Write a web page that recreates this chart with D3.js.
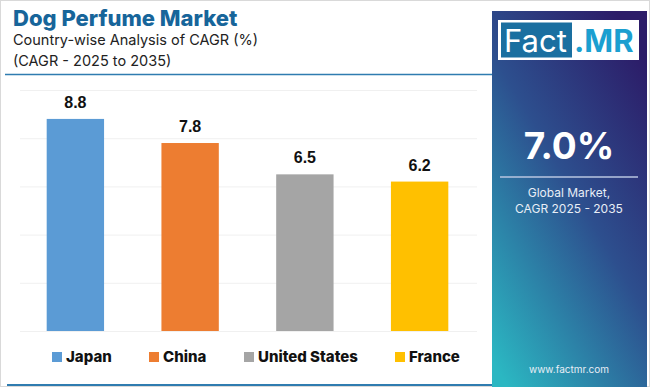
<!DOCTYPE html>
<html lang="en">
<head>
    <meta charset="UTF-8">
    <title>Dog Perfume Market</title>
    <script src="https://d3js.org/d3.v7.min.js"></script>
    <style>
        body {
            margin: 0;
            padding: 0;
            background: #ffffff;
        }
        svg {
            display: block;
            font-family: "Inter", "Open Sans", sans-serif;
        }
    </style>
</head>
<body>
    <svg id="chart" width="650" height="387"></svg>

    <script>
        // Data
        const countries = ["Japan", "China", "United States", "France"];
        const cagr = [8.8, 7.8, 6.5, 6.2];
        const barColors = ["#5b9bd5", "#ed7d31", "#a5a5a5", "#ffc000"];
        const yTicks = [0, 2, 4, 6, 8, 10];
        const globalCagr = "7.0%";

        const data = countries.map((c, i) => ({ country: c, value: cagr[i], color: barColors[i] }));

        const svg = d3.select("#chart");

        // outer frame
        svg.append("rect")
            .attr("x", 0.5).attr("y", 0.5)
            .attr("width", 649).attr("height", 386)
            .attr("fill", "#ffffff")
            .attr("stroke", "#d9d9d9");

        // Titles
        svg.append("text")
            .attr("x", 13).attr("y", 26)
            .style("font-size", "22px")
            .style("font-weight", "800")
            .attr("fill", "#17659a")
            .text("Dog Perfume Market");

        svg.append("text")
            .attr("x", 13).attr("y", 45)
            .style("font-size", "14.5px")
            .attr("fill", "#222")
            .text("Country-wise Analysis of CAGR (%)");

        svg.append("text")
            .attr("x", 13).attr("y", 66)
            .style("font-size", "14.5px")
            .attr("fill", "#222")
            .text("(CAGR - 2025 to 2035)");

        svg.append("line")
            .attr("x1", 5).attr("x2", 492)
            .attr("y1", 74.5).attr("y2", 74.5)
            .attr("stroke", "#2f7cb0").attr("stroke-width", 1.5);

        // bottom rule
        svg.append("line")
            .attr("x1", 7).attr("x2", 492)
            .attr("y1", 385).attr("y2", 385)
            .attr("stroke", "#2f7cb0").attr("stroke-width", 2);

        // Chart area
        const x = d3.scaleBand()
            .domain(countries)
            .range([18, 477])
            .paddingInner(0.5)
            .paddingOuter(0.25);

        const y = d3.scaleLinear()
            .domain([0, 10])
            .range([331, 90]);

        // faint gridlines
        svg.append("g")
            .selectAll("line")
            .data(yTicks)
            .enter().append("line")
            .attr("x1", 20).attr("x2", 477)
            .attr("y1", d => y(d) + 0.5).attr("y2", d => y(d) + 0.5)
            .attr("stroke", "#f0f0f0");

        // bars
        svg.append("g")
            .selectAll("rect")
            .data(data)
            .enter().append("rect")
            .attr("x", d => x(d.country))
            .attr("y", d => y(d.value))
            .attr("width", x.bandwidth())
            .attr("height", d => y(0) - y(d.value))
            .attr("fill", d => d.color);

        // value labels
        svg.append("g")
            .selectAll("text")
            .data(data)
            .enter().append("text")
            .attr("x", d => x(d.country) + x.bandwidth() / 2)
            .attr("y", d => y(d.value) - 11)
            .attr("text-anchor", "middle")
            .style("font-family", "'Liberation Sans', Arial, sans-serif")
            .style("font-size", "16px")
            .style("font-weight", "bold")
            .attr("fill", "#111")
            .text(d => d.value.toFixed(1));

        // legend
        const legendX = [52, 149, 244, 395];
        const legend = svg.append("g")
            .selectAll("g")
            .data(data)
            .enter().append("g")
            .attr("transform", (d, i) => `translate(${legendX[i]},352)`);

        legend.append("rect")
            .attr("width", 10).attr("height", 10)
            .attr("fill", d => d.color);

        legend.append("text")
            .attr("x", 14).attr("y", 9.5)
            .style("font-size", "15px")
            .style("font-weight", "800")
            .attr("fill", "#111")
            .text(d => d.country);

        // Right side panel
        const defs = svg.append("defs");
        const grad = defs.append("linearGradient")
            .attr("id", "panelGrad")
            .attr("x1", "0.8").attr("y1", "0")
            .attr("x2", "0.1").attr("y2", "1");
        grad.append("stop").attr("offset", "0%").attr("stop-color", "#2c1c68");
        grad.append("stop").attr("offset", "45%").attr("stop-color", "#2d4f8e");
        grad.append("stop").attr("offset", "100%").attr("stop-color", "#2bb7c2");

        svg.append("rect")
            .attr("x", 492).attr("y", 11)
            .attr("width", 155).attr("height", 376)
            .attr("fill", "url(#panelGrad)");

        // logo
        svg.append("rect")
            .attr("x", 498).attr("y", 20)
            .attr("width", 141).attr("height", 40)
            .attr("fill", "#ffffff");
        svg.append("rect")
            .attr("x", 501).attr("y", 22.5)
            .attr("width", 71).attr("height", 35)
            .attr("fill", "#1a6fa0");
        svg.append("text")
            .attr("x", 504).attr("y", 52)
            .style("font-size", "31px")
            .attr("fill", "#ffffff")
            .text("Fact");
        svg.append("text")
            .attr("x", 574).attr("y", 52)
            .style("font-size", "31px")
            .style("font-weight", "bold")
            .attr("fill", "#1b9fd0")
            .text(".MR");

        svg.append("text")
            .attr("x", 569).attr("y", 159)
            .attr("text-anchor", "middle")
            .style("font-size", "37px")
            .style("font-weight", "bold")
            .attr("fill", "#ffffff")
            .text(globalCagr);

        svg.append("line")
            .attr("x1", 500).attr("x2", 638)
            .attr("y1", 177).attr("y2", 177)
            .attr("stroke", "#b9c6e0").attr("stroke-width", 1.5);

        svg.append("text")
            .attr("x", 569).attr("y", 197)
            .attr("text-anchor", "middle")
            .style("font-size", "12px")
            .attr("fill", "#e8eef6")
            .text("Global Market,");

        svg.append("text")
            .attr("x", 569).attr("y", 213)
            .attr("text-anchor", "middle")
            .style("font-size", "12px")
            .attr("fill", "#e8eef6")
            .text("CAGR 2025 - 2035");

        svg.append("text")
            .attr("x", 569).attr("y", 373)
            .attr("text-anchor", "middle")
            .style("font-size", "10px")
            .attr("fill", "#e8eef6")
            .text("www.factmr.com");
    </script>
</body>
</html>
